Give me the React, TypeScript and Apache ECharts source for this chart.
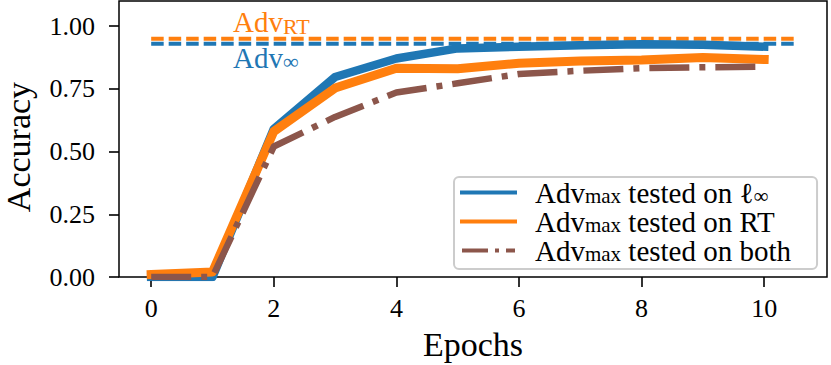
import React, { useEffect, useRef } from 'react';
import * as echarts from 'echarts';

// ---- data ----
const epochs = [0, 1, 2, 3, 4, 5, 6, 7, 8, 9, 10];
const accLinf = [0.0, 0.0, 0.59, 0.797, 0.871, 0.911, 0.918, 0.924, 0.928, 0.926, 0.918];
const accRT = [0.01, 0.02, 0.58, 0.753, 0.832, 0.83, 0.852, 0.861, 0.865, 0.875, 0.867];
const accBoth = [0.0, 0.0, 0.52, 0.638, 0.735, 0.772, 0.809, 0.822, 0.832, 0.836, 0.838];
const advInfLevel = 0.93;
const advRTLevel = 0.95;
const refSpan = [0, 10.5];
const xTicks = [0, 2, 4, 6, 8, 10];
const yTicks = [0, 0.25, 0.5, 0.75, 1.0];
const xRange = [-0.525, 11.025];
const yRange = [0, 1.1];
const annotRT = [1.334, 1.016];
const annotInf = [1.334, 0.873];

const NAME_LINF = 'linf';
const NAME_RT = 'rt';
const NAME_BOTH = 'both';
const legendText: Record<string, string> = {
  [NAME_LINF]: '{b|Adv}{s|max}{b| tested on ℓ}{i|∞}',
  [NAME_RT]: '{b|Adv}{s|max}{b| tested on RT}',
  [NAME_BOTH]: '{b|Adv}{s|max}{b| tested on both}',
};

const BLUE = '#1f77b4';
const ORANGE = '#ff7f0e';
const BROWN = '#8c564b';
const FONT = '"Liberation Serif", "DejaVu Serif", serif';

function richFor(color: string, size: number, subSize: number, lh: number, subLh: number) {
  return {
    b: { fontFamily: FONT, fontSize: size, color, lineHeight: lh },
    s: { fontFamily: FONT, fontSize: subSize, color, lineHeight: subLh, verticalAlign: 'bottom' },
    i: { fontFamily: FONT, fontSize: subSize, color, lineHeight: subSize, verticalAlign: 'bottom' },
  };
}

export default function App() {
  const ref = useRef<HTMLDivElement>(null);
  useEffect(() => {
    document.body.style.margin = '0';
    const chart = echarts.init(ref.current!, null, { renderer: 'svg' });
    const pair = (xs: number[], ys: number[]) => xs.map((x, i) => [x, ys[i]]);
    chart.setOption({
      animation: false,
      grid: {
        left: 119, right: 4, top: 1, bottom: 88,
        containLabel: false, outerBoundsMode: 'none',
        show: true, borderColor: '#000', borderWidth: 1.5, backgroundColor: 'transparent',
      },
      xAxis: {
        type: 'value', min: xRange[0], max: xRange[1],
        name: 'Epochs', nameLocation: 'middle', nameGap: 50,
        nameTextStyle: { fontFamily: FONT, fontSize: 34, color: '#000' },
        axisLine: { show: false, onZero: false },
        splitLine: { show: false },
        axisTick: { show: true, length: 10, lineStyle: { color: '#000', width: 1.6 }, customValues: xTicks },
        axisLabel: { margin: 18, fontFamily: FONT, fontSize: 26, color: '#000', customValues: xTicks, formatter: (v: number) => String(v) },
      },
      yAxis: {
        type: 'value', min: yRange[0], max: yRange[1],
        name: 'Accuracy', nameLocation: 'middle', nameGap: 84,
        nameTextStyle: { fontFamily: FONT, fontSize: 34, color: '#000', padding: [0, 16, 0, 0] },
        axisLine: { show: false, onZero: false },
        splitLine: { show: false },
        axisTick: { show: true, length: 10, lineStyle: { color: '#000', width: 1.6 }, customValues: yTicks },
        axisLabel: { margin: 24, fontFamily: FONT, fontSize: 26, color: '#000', customValues: yTicks, formatter: (v: number) => v.toFixed(2) },
      },
      legend: {
        orient: 'vertical', left: 454, top: 177,
        padding: [1, 26, 4, 6], itemGap: 0,
        itemWidth: 53, itemHeight: 27.5,
        borderColor: '#cccccc', borderWidth: 2, borderRadius: 5, backgroundColor: '#ffffff',
        itemStyle: { opacity: 0 },
        textStyle: { fontFamily: FONT, fontSize: 29, lineHeight: 27.5, color: '#000', padding: [0, 0, 0, 15], rich: richFor('#000', 29, 21, 27.5, 19) },
        formatter: (name: string) => legendText[name],
        data: [
          { name: NAME_LINF, lineStyle: { width: 4, color: BLUE, type: 'solid' } },
          { name: NAME_RT, lineStyle: { width: 4, color: ORANGE, type: 'solid' } },
          { name: NAME_BOTH, lineStyle: { width: 4, color: BROWN, type: [26, 7, 4, 7] } },
        ],
      },
      series: [
        {
          name: 'advInf', type: 'line', data: pair(refSpan, [advInfLevel, advInfLevel]), symbol: 'none', silent: true,
          lineStyle: { color: BLUE, width: 4, type: [12.5, 5] },
          markPoint: {
            symbol: 'circle', symbolSize: 0, silent: true,
            label: { show: true, position: 'right', distance: 0, formatter: '{b|Adv}{s|∞}', rich: richFor(BLUE, 29, 22, 30, 18) },
            data: [{ coord: annotInf }],
          },
        },
        {
          name: 'advRT', type: 'line', data: pair(refSpan, [advRTLevel, advRTLevel]), symbol: 'none', silent: true,
          lineStyle: { color: ORANGE, width: 4, type: [12.5, 5] },
          markPoint: {
            symbol: 'circle', symbolSize: 0, silent: true,
            label: { show: true, position: 'right', distance: 0, formatter: '{b|Adv}{s|RT}', rich: richFor(ORANGE, 29, 22, 30, 18) },
            data: [{ coord: annotRT }],
          },
        },
        {
          name: NAME_LINF, type: 'line', data: pair(epochs, accLinf), symbol: 'none', color: BLUE,
          lineStyle: { color: BLUE, width: 8.5, cap: 'square', join: 'round' },
        },
        {
          name: NAME_RT, type: 'line', data: pair(epochs, accRT), symbol: 'none', color: ORANGE,
          lineStyle: { color: ORANGE, width: 9, cap: 'square', join: 'round' },
        },
        {
          name: NAME_BOTH, type: 'line', data: pair(epochs, accBoth), symbol: 'none', color: BROWN,
          lineStyle: { color: BROWN, width: 6.5, type: [40, 10, 6, 10], cap: 'butt', join: 'round' },
        },
      ],
    });
    return () => chart.dispose();
  }, []);
  return <div ref={ref} style={{ position: 'absolute', left: 0, top: 0, width: 831, height: 365 }} />;
}
